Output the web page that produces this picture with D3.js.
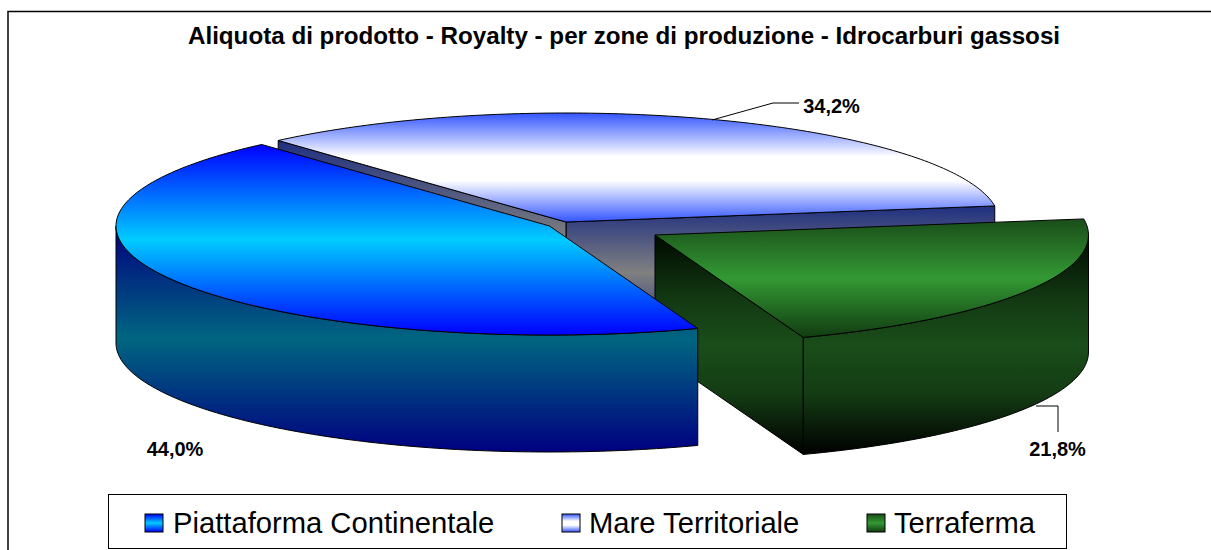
<!DOCTYPE html>
<html><head><meta charset="utf-8">
<script src="https://cdn.jsdelivr.net/npm/d3@7"></script>
<style>html,body{margin:0;padding:0;background:#fff}svg{display:block}text{font-family:"Liberation Sans",Arial,sans-serif;fill:#000}</style>
</head><body><svg id="c" width="1211" height="550"></svg>
<script>
const categories = ["Piattaforma Continentale", "Mare Territoriale", "Terraferma"];
const values = [44.0, 34.2, 21.8];
const valueLabels = ["44,0%", "34,2%", "21,8%"];
const chartTitle = "Aliquota di prodotto - Royalty - per zone di produzione - Idrocarburi gassosi";

const W = 1211, H = 550, RX = 433.5, RY = 109, DEPTH = 117;
const centers = [{x:549.5,y:226},{x:566,y:222},{x:655,y:235}];
const styles = [
 {top:[[0,"#0000ff"],[.5,"#00ccff"],[1,"#0000ff"]], wall:[[0,"#000080"],[.5,"#006680"],[1,"#000080"]], key:"blue"},
 {top:[[0,"#3355ff"],[.4,"#ffffff"],[.62,"#ffffff"],[1,"#3355ff"]], wall:[[0,"#1f2f80"],[.5,"#808080"],[1,"#1f2f80"]], key:"mare"},
 {top:[[0,"#1a4d1a"],[.5,"#339933"],[1,"#123c12"]], wall:[[0,"#000a00"],[.3,"#133a13"],[.5,"#1a4d1a"],[.72,"#143c14"],[1,"#000000"]], key:"green"}
];
const svg = d3.select("#c");
const defs = svg.append("defs");
styles.forEach(s=>{
  [["top",s.top],["wall",s.wall]].forEach(([n,st])=>{
    const g = defs.append("linearGradient").attr("id",s.key+"-"+n).attr("x1",0).attr("y1",0).attr("x2",0).attr("y2",1);
    st.forEach(([o,c])=>g.append("stop").attr("offset",o).attr("stop-color",c));
  });
});
// frame: open on the right, clipped by the page at the bottom
svg.append("path").attr("d",`M8 ${H}V11.5H${W}`).attr("fill","none").attr("stroke","#000").attr("stroke-width",1.5);

const pie = d3.pie().sort(null).startAngle(160*Math.PI/180).endAngle((160+360)*Math.PI/180);
const arcs = pie(values);
const pt=(c,a,dz=0)=>[c.x+RX*Math.sin(a), c.y-RY*Math.cos(a)+dz];
const line=d3.line();
function sweep(c,a0,a1,dz){const n=Math.max(2,Math.ceil(Math.abs(a1-a0)*60));return d3.range(n+1).map(i=>pt(c,a0+(a1-a0)*i/n,dz));}
function topFace(i){const c=centers[i],a=arcs[i];return line([[c.x,c.y],...sweep(c,a.startAngle,a.endAngle,0)])+"Z";}
function radialWall(i,ang){const c=centers[i],p=pt(c,ang);return line([[c.x,c.y],p,[p[0],p[1]+DEPTH],[c.x,c.y+DEPTH]])+"Z";}
function rim(i){const c=centers[i],a=arcs[i];
  let lo=Math.PI/2,hi=3*Math.PI/2;
  let s=a.startAngle,e=a.endAngle;
  const ranges=[[lo,hi],[lo+2*Math.PI,hi+2*Math.PI]];
  for(const [l,h] of ranges){const a0=Math.max(s,l),a1=Math.min(e,h);
    if(a1>a0){const t=sweep(c,a0,a1,0),b=sweep(c,a1,a0,DEPTH);return line([...t,...b])+"Z";}}
  return null;}
const faces=svg.append("g").attr("stroke","#000").attr("stroke-width",1).attr("stroke-linejoin","round");
function add(d,f){ if(d) faces.append("path").attr("d",d).attr("fill",f); }
const drawOrder=[1,2,0];
drawOrder.forEach(i=>{
  const a=arcs[i],k=styles[i].key;
  if(k==="mare"){ add(radialWall(i,a.endAngle),`url(#${k}-wall)`); add(radialWall(i,a.startAngle),`url(#${k}-wall)`); }
  if(k==="green"){ add(radialWall(i,a.endAngle),`url(#${k}-wall)`); }
  add(rim(i),`url(#${k}-wall)`);
  add(topFace(i),`url(#${k}-top)`);
});
// title
svg.append("text").attr("x",624).attr("y",44).attr("text-anchor","middle").attr("font-weight","bold").attr("font-size",24.2).text(chartTitle);
// value labels and leaders
const labelPos=[[175,456],[831.5,113],[1057.5,456]];
valueLabels.forEach((t,i)=>svg.append("text").attr("x",labelPos[i][0]).attr("y",labelPos[i][1]).attr("text-anchor","middle").attr("font-weight","bold").attr("font-size",20).text(t));
const leaders=[[[712,120],[773,103],[799,103]],[[1036,406],[1058,406],[1058,432]]];
leaders.forEach(l=>svg.append("path").attr("d",line(l)).attr("fill","none").attr("stroke","#000").attr("stroke-width",1));
// legend
svg.append("rect").attr("x",108.5).attr("y",494.5).attr("width",958).attr("height",54).attr("fill","#fff").attr("stroke","#000");
const legX=[145,562,867], txtX=[173,589,894];
categories.forEach((t,i)=>{
  svg.append("rect").attr("x",legX[i]).attr("y",514).attr("width",18).attr("height",18).attr("fill",`url(#${styles[i].key}-top)`).attr("stroke","#000");
  svg.append("text").attr("x",txtX[i]).attr("y",533).attr("font-size",29.2).text(t);
});
</script></body></html>
